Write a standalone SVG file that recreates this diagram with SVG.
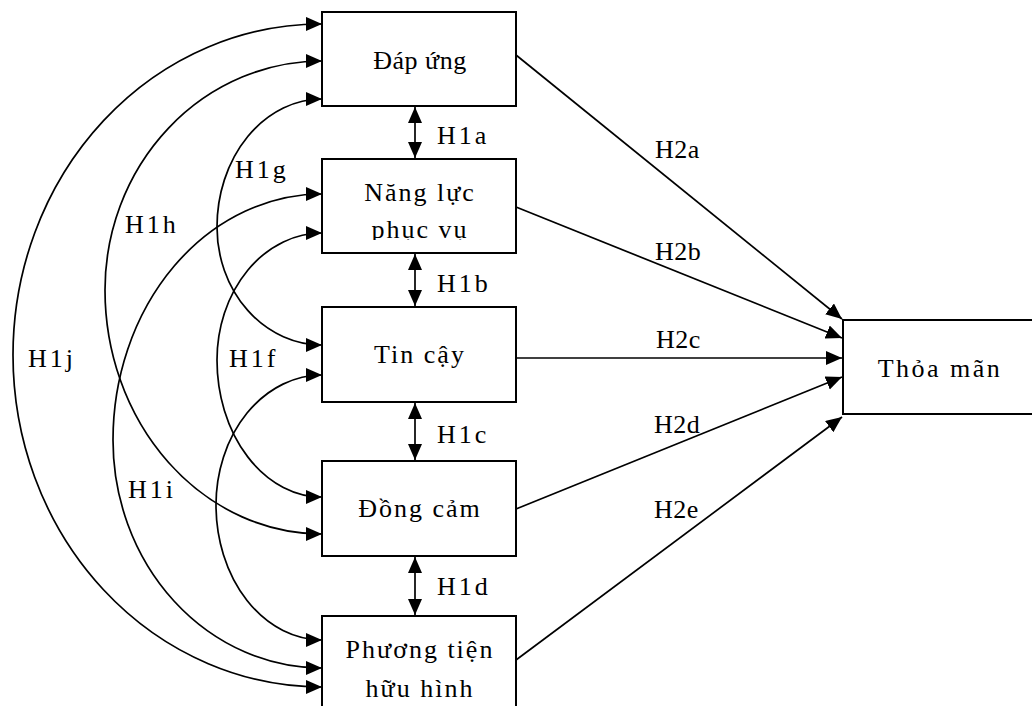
<svg xmlns="http://www.w3.org/2000/svg" width="1032" height="706" viewBox="0 0 1032 706">
<style>
.box{fill:#fff;stroke:#000;stroke-width:2}
.t{font-family:"Liberation Serif","Times New Roman",serif;font-size:26px;fill:#000}
.bt{text-anchor:middle;letter-spacing:2px}
.h1{letter-spacing:3px}
.h2{letter-spacing:0.5px}
.c{fill:none;stroke:#000;stroke-width:1.7}
</style>
<defs>
<marker id="ah" markerUnits="userSpaceOnUse" markerWidth="17" markerHeight="15" refX="16" refY="7" orient="auto-start-reverse">
<path d="M0,0 L16,7 L0,14 z" fill="#000"/>
</marker>
<clipPath id="clipNL"><rect x="322" y="159" width="194" height="81"/></clipPath>
</defs>
<rect width="1032" height="706" fill="#fff"/>
<g id="connectors">
<path class="c" d="M322,24 A308,331 0 0 0 13,355 A309,332 0 0 0 322,687" marker-start="url(#ah)" marker-end="url(#ah)"/>
<path class="c" d="M322,61 A217,229 0 0 0 105,290 A217,244 0 0 0 322,534" marker-start="url(#ah)" marker-end="url(#ah)"/>
<path class="c" d="M322,99 A105,128 0 0 0 217,227 A105,118 0 0 0 322,345" marker-start="url(#ah)" marker-end="url(#ah)"/>
<path class="c" d="M322,194 A209,246 0 0 0 113,440 A209,228 0 0 0 322,668" marker-start="url(#ah)" marker-end="url(#ah)"/>
<path class="c" d="M322,233 A105,127 0 0 0 217,360 A105,137 0 0 0 322,497" marker-start="url(#ah)" marker-end="url(#ah)"/>
<path class="c" d="M322,375 A106,130 0 0 0 216,505 A106,135 0 0 0 322,640" marker-start="url(#ah)" marker-end="url(#ah)"/>
<line class="c" x1="415" y1="107" x2="415" y2="158" marker-start="url(#ah)" marker-end="url(#ah)"/>
<line class="c" x1="415" y1="254" x2="415" y2="306" marker-start="url(#ah)" marker-end="url(#ah)"/>
<line class="c" x1="415" y1="403" x2="415" y2="460" marker-start="url(#ah)" marker-end="url(#ah)"/>
<line class="c" x1="415" y1="557" x2="415" y2="615" marker-start="url(#ah)" marker-end="url(#ah)"/>
<line class="c" x1="516" y1="55" x2="842" y2="319" marker-end="url(#ah)"/>
<line class="c" x1="516" y1="207" x2="842" y2="338" marker-end="url(#ah)"/>
<line class="c" x1="516" y1="358" x2="842" y2="358" marker-end="url(#ah)"/>
<line class="c" x1="516" y1="509" x2="842" y2="377" marker-end="url(#ah)"/>
<line class="c" x1="516" y1="660" x2="842" y2="417" marker-end="url(#ah)"/>
<g class="t h1">
<text x="437" y="144">H1a</text>
<text x="437" y="292">H1b</text>
<text x="437" y="443">H1c</text>
<text x="437" y="595">H1d</text>
<text x="229" y="367">H1f</text>
<text x="235" y="178">H1g</text>
<text x="125" y="233">H1h</text>
<text x="128" y="498">H1i</text>
<text x="28" y="367">H1j</text>
</g>
<g class="t h2">
<text x="655" y="158">H2a</text>
<text x="655" y="260">H2b</text>
<text x="656" y="348">H2c</text>
<text x="654" y="433">H2d</text>
<text x="654" y="518">H2e</text>
</g>
</g>
<g id="n-dapung">
<rect class="box" x="322" y="12" width="194" height="94"/>
<text class="t bt" x="420" y="69" style="letter-spacing:0.5px">Đáp ứng</text>
</g>
<g id="n-nangluc">
<rect class="box" x="322" y="159" width="194" height="94"/>
<g clip-path="url(#clipNL)">
<text class="t bt" x="420" y="201">Năng lực</text>
<text class="t bt" x="420" y="238">phục vụ</text>
</g>
</g>
<g id="n-tincay">
<rect class="box" x="322" y="307" width="194" height="95"/>
<text class="t bt" x="420" y="363">Tin cậy</text>
</g>
<g id="n-dongcam">
<rect class="box" x="322" y="461" width="194" height="95"/>
<text class="t bt" x="420" y="517">Đồng cảm</text>
</g>
<g id="n-phuongtien">
<rect class="box" x="322" y="616" width="194" height="100"/>
<text class="t bt" x="420" y="658">Phương tiện</text>
<text class="t bt" x="420" y="697">hữu hình</text>
</g>
<g id="n-thoaman">
<rect class="box" x="843" y="320" width="200" height="94"/>
<text class="t bt" x="940" y="377" style="letter-spacing:2.5px">Thỏa mãn</text>
</g>
</svg>
